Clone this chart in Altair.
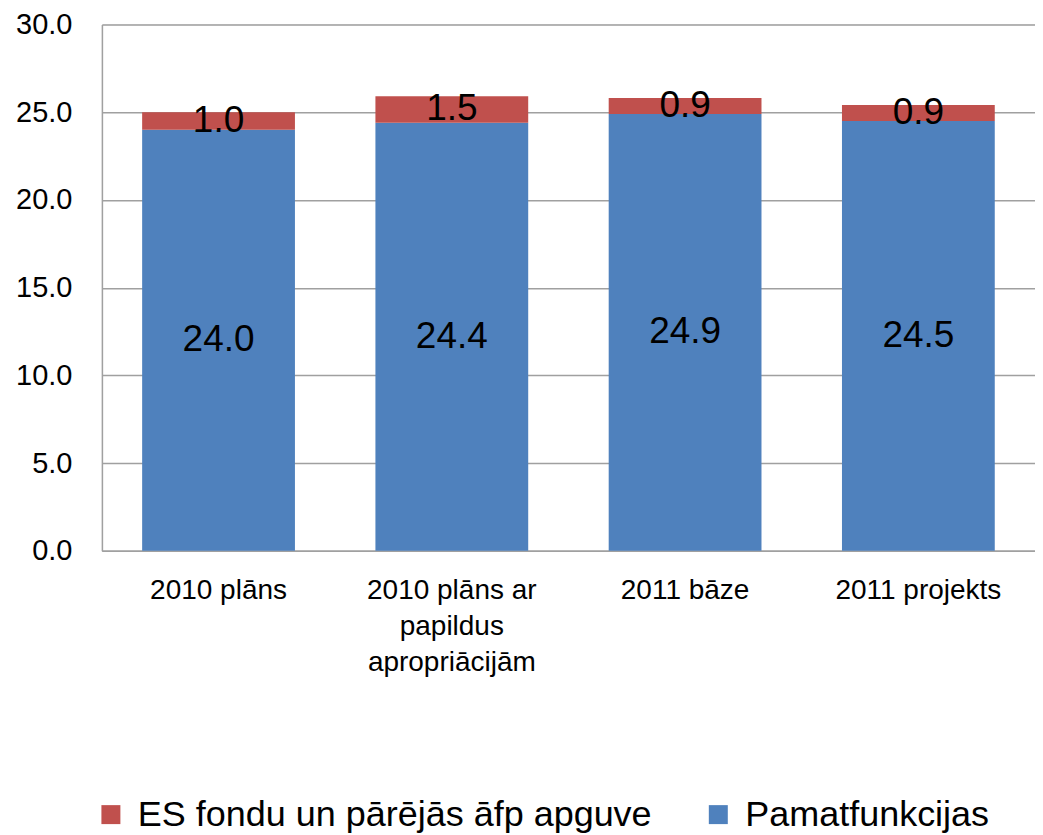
import altair as alt
import pandas as pd

categories = ["2010 plāns", "2010 plāns ar papildus apropriācijām", "2011 bāze", "2011 projekts"]
series_names = ["ES fondu un pārējās āfp apguve", "Pamatfunkcijas"]
pamatfunkcijas = [24.0, 24.4, 24.9, 24.5]
es_fondi = [1.0, 1.5, 0.9, 0.9]
colors = ["#C0504D", "#4F81BD"]
y_ticks = [0, 5, 10, 15, 20, 25, 30]

rows = []
for c, b, e in zip(categories, pamatfunkcijas, es_fondi):
    rows.append({"cat": c, "series": series_names[1], "value": b, "ord": 0})
    rows.append({"cat": c, "series": series_names[0], "value": e, "ord": 1})
df = pd.DataFrame(rows)

FONT = "Liberation Sans"

label_expr = ("datum.label == '2010 plāns ar papildus apropriācijām' ? "
              "['2010 plāns ar', 'papildus', 'apropriācijām'] : datum.label")

x_enc = alt.X(
    "cat:N", sort=categories, title=None,
    scale=alt.Scale(paddingInner=0.345, paddingOuter=0.1725),
    axis=alt.Axis(labelAngle=0, labelFontSize=28, labelFont=FONT, labelColor="black",
                  labelPadding=26, ticks=False, tickSize=0, labelExpr=label_expr,
                  labelLineHeight=36, domainColor="#a0a0a0", domainWidth=1.5,
                  grid=False, labelLimit=400),
)

y_scale = alt.Scale(domain=[0, 30], nice=False)
y_axis = alt.Axis(values=y_ticks, format=".1f", labelFontSize=29, labelFont=FONT,
                  labelColor="black", labelPadding=30, ticks=False, tickSize=0,
                  domainColor="#a0a0a0", domainWidth=1.5, gridColor="#a0a0a0",
                  gridWidth=1.5, title=None)

bars = alt.Chart(df).mark_bar().encode(
    x=x_enc,
    y=alt.Y("value:Q", stack="zero", scale=y_scale, axis=y_axis),
    color=alt.Color(
        "series:N",
        scale=alt.Scale(domain=series_names, range=colors),
        legend=alt.Legend(orient="none", legendX=-9, legendY=773, direction="horizontal",
                          title=None, symbolType="square", symbolSize=361,
                          symbolStrokeWidth=0, labelFontSize=36, labelFont=FONT,
                          labelColor="black", labelOffset=9, columnPadding=48,
                          labelLimit=800, padding=0),
    ),
    order=alt.Order("ord:Q"),
)

labels = alt.Chart(df).transform_stack(
    stack="value", groupby=["cat"], as_=["y0", "y1"],
    sort=[alt.SortField("ord", order="ascending")],
).transform_calculate(
    mid="(datum.y0 + datum.y1) / 2"
).mark_text(fontSize=37, font=FONT, color="black", baseline="middle", align="center").encode(
    x=alt.X("cat:N", sort=categories),
    y=alt.Y("mid:Q", scale=y_scale),
    text=alt.Text("value:Q", format=".1f"),
)

chart = alt.layer(bars, labels).properties(
    width=934, height=527,
    padding={"left": 7, "top": 2, "right": 0, "bottom": 0},
).configure_view(stroke=None).configure(background="white")

chart.save("out.html", embed_options={"renderer": "svg", "actions": False})
